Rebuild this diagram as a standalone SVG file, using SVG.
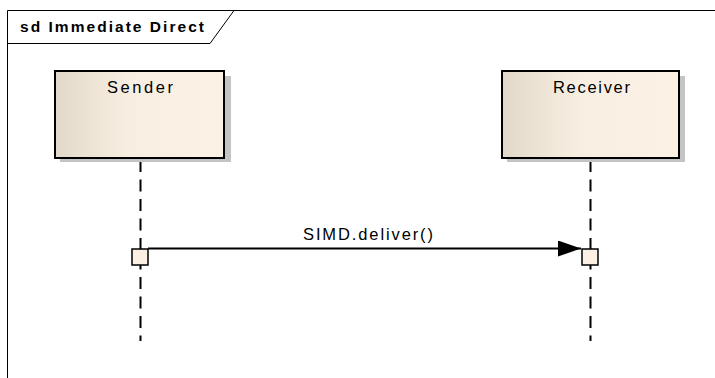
<svg xmlns="http://www.w3.org/2000/svg" width="715" height="378" viewBox="0 0 715 378">
  <defs>
    <linearGradient id="lifelineFill" x1="0" y1="0" x2="1" y2="0">
      <stop offset="0" stop-color="#e3d9ca"/>
      <stop offset="0.45" stop-color="#f8efe2"/>
      <stop offset="1" stop-color="#fbf1e4"/>
    </linearGradient>
    <marker id="arrowFilled" markerUnits="userSpaceOnUse" markerWidth="24" markerHeight="17" refX="23" refY="8" orient="auto">
      <polygon points="0,0 23,8 0,16" fill="#000"/>
    </marker>
  </defs>
  <style>
    .frame { fill: none; stroke: #000; stroke-width: 1; }
    .shadow { fill: #c4c4c4; }
    .head { fill: url(#lifelineFill); stroke: #000; stroke-width: 2; }
    .label { font-family: "Liberation Sans", Arial, sans-serif; font-size: 16.5px; fill: #000; }
    .title { font-family: "Liberation Sans", Arial, sans-serif; font-size: 15.5px; font-weight: bold; fill: #000; }
    .life { stroke: #000; stroke-width: 2; stroke-dasharray: 12 7.5; fill: none; }
    .act { fill: #fbf0e1; stroke: #000; stroke-width: 1.5; }
    .msg { stroke: #000; stroke-width: 2; fill: none; }
  </style>

  <rect width="715" height="378" fill="#fff"/>

  <!-- interaction frame -->
  <g id="frame">
    <path class="frame" d="M7.5,378 V10.5 H715"/>
    <path class="frame" d="M7.5,43.5 H210 L234,10.5"/>
    <text class="title" x="20" y="32" textLength="184" lengthAdjust="spacing">sd Immediate Direct</text>
  </g>

  <!-- lifeline stems and the message -->
  <g id="connectors">
    <line class="life" x1="140.5" y1="160" x2="140.5" y2="341"/>
    <line class="life" x1="590.5" y1="160" x2="590.5" y2="341"/>
    <line class="msg" x1="148" y1="248.5" x2="581" y2="248.5" marker-end="url(#arrowFilled)"/>
    <text class="label" x="303" y="239.5" textLength="130" lengthAdjust="spacing">SIMD.deliver()</text>
  </g>

  <g id="sender">
    <rect class="shadow" x="60" y="76" width="171" height="86"/>
    <rect class="head" x="55" y="71" width="169" height="87"/>
    <text class="label" x="107" y="93" textLength="66" lengthAdjust="spacing">Sender</text>
  </g>

  <g id="receiver">
    <rect class="shadow" x="507" y="76" width="178" height="86"/>
    <rect class="head" x="502" y="71" width="177" height="87"/>
    <text class="label" x="553" y="93" textLength="77" lengthAdjust="spacing">Receiver</text>
  </g>

  <g id="sender-activation">
    <rect class="act" x="132" y="249" width="16" height="16"/>
  </g>
  <g id="receiver-activation">
    <rect class="act" x="582" y="249" width="16" height="16"/>
  </g>
</svg>
